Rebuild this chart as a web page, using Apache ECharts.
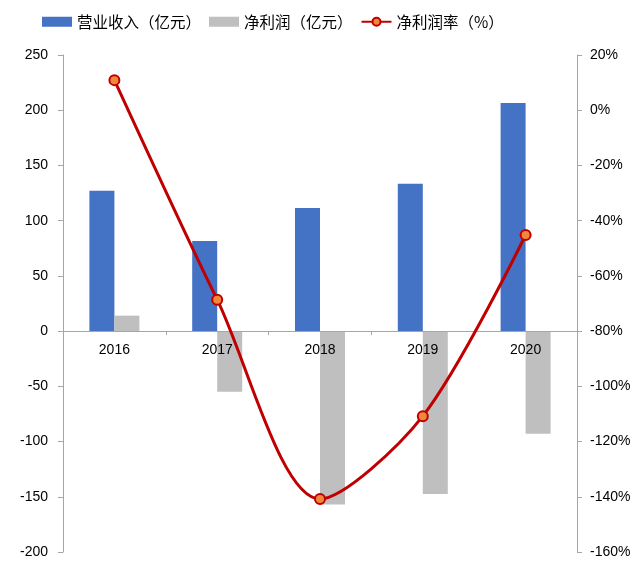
<!DOCTYPE html>
<html>
<head>
<meta charset="utf-8">
<script src="https://cdn.jsdelivr.net/npm/echarts@6/dist/echarts.min.js"></script>
<style>
  html, body { margin: 0; padding: 0; background: #fff; }
  #chart { width: 633px; height: 563px; }
</style>
</head>
<body>
<div id="chart"></div>
<script>
// Annual figures
var years = ['2016', '2017', '2018', '2019', '2020'];
var revenue = [127, 81.5, 111.5, 133.5, 206.5];      // 营业收入（亿元）
var netProfit = [14, -55, -157, -147.5, -93];         // 净利润（亿元）
var netMargin = [10.9, -68.6, -140.8, -110.8, -45.2]; // 净利润率（%）

var leftTicks = { min: -200, max: 250, interval: 50 };
var rightTicks = { min: -160, max: 20, interval: 20 };

var labelFont = { fontFamily: 'Liberation Sans, Arial, sans-serif', fontSize: 14, color: '#000' };
var axisGray = '#A6A6A6';

var gridTop = 55, gridBottom = 11, chartHeight = 563;
var plotHeight = chartHeight - gridTop - gridBottom;
// category axis sits on the zero line of the left value axis
var zeroOffset = -plotHeight * (0 - leftTicks.min) / (leftTicks.max - leftTicks.min);

var chart = echarts.init(document.getElementById('chart'));
chart.setOption({
  animation: false,
  backgroundColor: '#fff',
  legend: {
    top: 9,
    left: 37,
    itemWidth: 30,
    itemHeight: 10,
    itemGap: 8,
    textStyle: { fontFamily: 'Noto Sans CJK SC', fontSize: 15.5, color: '#000' },
    data: [
      { name: '营业收入（亿元）', icon: 'rect' },
      { name: '净利润（亿元）', icon: 'rect' },
      { name: '净利润率（%）' }
    ]
  },
  grid: { left: 63, right: 56, top: gridTop, bottom: gridBottom, containLabel: false, outerBoundsMode: 'none' },
  xAxis: {
    type: 'category',
    data: years,
    position: 'bottom',
    offset: zeroOffset,
    z: 4,
    axisLine: { onZero: false, lineStyle: { color: axisGray, width: 1 } },
    axisTick: { show: true, length: 4, lineStyle: { color: axisGray } },
    axisLabel: Object.assign({ margin: 12 }, labelFont)
  },
  yAxis: [
    {
      type: 'value',
      min: leftTicks.min, max: leftTicks.max, interval: leftTicks.interval,
      axisLine: { show: true, lineStyle: { color: axisGray } },
      axisTick: { show: true, length: 5, lineStyle: { color: axisGray } },
      splitLine: { show: false },
      axisLabel: Object.assign({ margin: 15 }, labelFont)
    },
    {
      type: 'value',
      min: rightTicks.min, max: rightTicks.max, interval: rightTicks.interval,
      axisLine: { show: true, lineStyle: { color: axisGray } },
      axisTick: { show: true, length: 5, lineStyle: { color: axisGray } },
      splitLine: { show: false },
      axisLabel: Object.assign({ margin: 13, formatter: '{value}%' }, labelFont)
    }
  ],
  series: [
    {
      name: '营业收入（亿元）',
      type: 'bar',
      data: revenue,
      barWidth: 25,
      barGap: '0%',
      itemStyle: { color: '#4472C4' }
    },
    {
      name: '净利润（亿元）',
      type: 'bar',
      data: netProfit,
      barWidth: 25,
      barGap: '0%',
      itemStyle: { color: '#BFBFBF' }
    },
    {
      name: '净利润率（%）',
      type: 'line',
      yAxisIndex: 1,
      data: netMargin,
      smooth: 0.3,
      symbol: 'circle',
      symbolSize: 10,
      lineStyle: { color: '#C00000', width: 3 },
      itemStyle: { color: '#F0873A', borderColor: '#C00000', borderWidth: 2 },
      z: 5
    }
  ]
});
</script>
</body>
</html>
